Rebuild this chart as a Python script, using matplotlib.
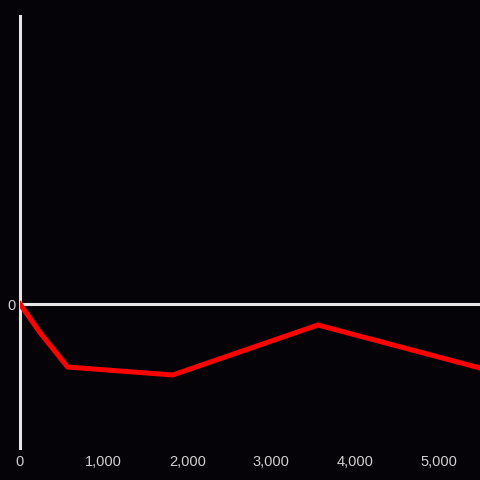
import matplotlib
matplotlib.use('Agg')
from matplotlib import pyplot as plt
from matplotlib.ticker import FuncFormatter

#   Data
x = [0, 233, 568, 1824, 3559, 5496]
y = [0, -28, -63, -71, -21, -64]
xticks = [0, 1000, 2000, 3000, 4000, 5000]

bg = '#050307'
axis_col = '#e6e6e6'
text_col = '#d0d0d0'

fig = plt.figure(figsize=(4.8, 4.8), dpi=100, facecolor=bg)
ax = fig.add_axes([20 / 480, 32 / 480, 460 / 480, 432 / 480])
ax.set_facecolor(bg)

ax.plot(x, y, color='#ff0000', linewidth=3.6, solid_joinstyle='miter', zorder=3)
ax.axhline(0, color=axis_col, linewidth=2.2, zorder=2)

ax.set_xlim(0, 5496)
ax.set_ylim(-144, 288)

for s in ['top', 'right', 'bottom']:
    ax.spines[s].set_visible(False)
ax.spines['left'].set_color(axis_col)
ax.spines['left'].set_linewidth(2.2)

ax.set_xticks(xticks)
ax.xaxis.set_major_formatter(FuncFormatter(lambda v, p: f'{int(v):,}'))
ax.set_yticks([0])
ax.tick_params(axis='both', length=0, colors=text_col, labelsize=10.5,
               labelfontfamily='Liberation Sans')
ax.tick_params(axis='x', pad=5)
ax.tick_params(axis='y', pad=3)

fig.savefig('out.png', dpi=100, facecolor=bg)
